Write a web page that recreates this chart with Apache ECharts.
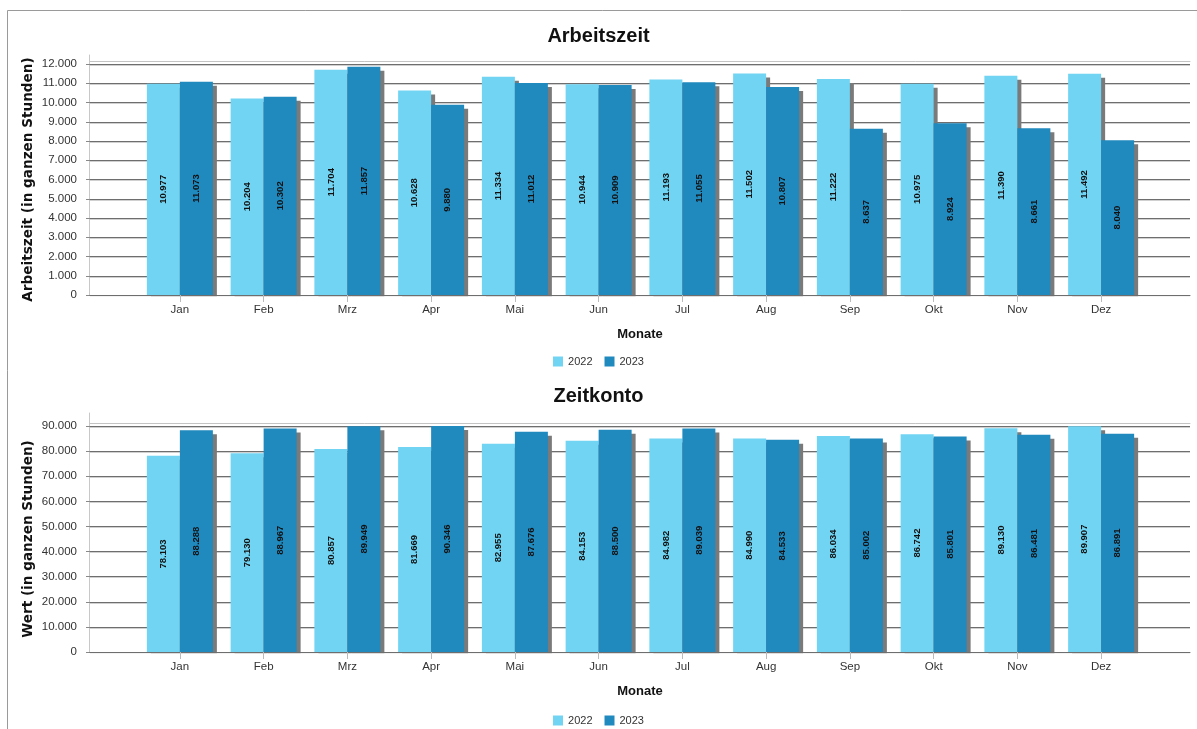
<!DOCTYPE html>
<html><head><meta charset="utf-8">
<script src="https://cdn.jsdelivr.net/npm/echarts@6/dist/echarts.min.js"></script>
<style>html,body{margin:0;padding:0;background:#fff}#c{width:1197px;height:729px}</style>
</head><body><div id="c"></div>
<script>
const categories = ['Jan','Feb','Mrz','Apr','Mai','Jun','Jul','Aug','Sep','Okt','Nov','Dez'];
const seriesNames = ['2022','2023'];
const arbeitszeit2022 = [10977,10204,11704,10628,11334,10944,11193,11502,11222,10975,11390,11492];
const arbeitszeit2023 = [11073,10302,11857,9880,11012,10909,11055,10807,8637,8924,8661,8040];
const zeitkonto2022 = [78103,79130,80857,81669,82955,84153,84982,84990,86034,86742,89130,89907];
const zeitkonto2023 = [88288,88967,89949,90346,87676,88500,89039,84533,85002,85801,86481,86891];
const titles = ['Arbeitszeit','Zeitkonto'];
const yNames = ['Arbeitszeit (in ganzen Stunden)','Wert (in ganzen Stunden)'];
const xName = 'Monate';
const yMax = [12000, 90000];
const yInterval = [1000, 10000];

const colors = ['#70d4f2','#2089be'];
const fmt = v => String(Math.round(v)).replace(/\B(?=(\d{3})+(?!\d))/g,'.');
const FONT = 'Liberation Sans';

const chart = echarts.init(document.getElementById('c'));
const panels = [
  {top:64, bottom:434, axTop:55, data:[arbeitszeit2022, arbeitszeit2023], titleTop:21, legendTop:351},
  {top:426, bottom:77, axTop:413, data:[zeitkonto2022, zeitkonto2023], titleTop:381, legendTop:710}
];
const grid=[], xAxis=[], yAxis=[], series=[], title=[], legend=[], graphic=[];
panels.forEach((p,i)=>{
  // background grid (gridlines, y labels)
  const gb = grid.length;
  grid.push({left:90, right:7, top:p.top, bottom:p.bottom});
  xAxis.push({type:'category', gridIndex:gb, data:categories, axisLabel:{show:false}, axisTick:{show:false}, z:6,
    axisLine:{show:true, lineStyle:{color:'#6e6e6e', width:1}}, splitLine:{show:false},
    name:xName, nameLocation:'middle', nameGap:33, nameMoveOverlap:false, nameTextStyle:{fontFamily:FONT, fontWeight:'bold', fontSize:13, color:'#111'}});
  // light second line under the axis
  xAxis.push({type:'category', gridIndex:gb, data:categories, offset:3, z:6, axisLabel:{show:false}, axisTick:{show:false},
    axisLine:{show:true, lineStyle:{color:'#c4c4c4', width:1}}, splitLine:{show:false}});
  yAxis.push({type:'value', gridIndex:gb, min:0, max:yMax[i], interval:yInterval[i],
    axisLine:{show:false}, axisTick:{show:true, length:4, lineStyle:{color:'#888'}},
    axisLabel:{formatter:fmt, fontFamily:FONT, fontSize:11.5, color:'#333', margin:13},
    splitLine:{show:true, lineStyle:{color:'#6e6e6e', width:1, shadowColor:'#d0d0d0', shadowOffsetY:1}},
    name:yNames[i], nameLocation:'middle', nameGap:55, nameMoveOverlap:false, nameTextStyle:{fontFamily:'DejaVu Sans', fontWeight:'bold', fontSize:13.6, color:'#111'}});
  // axis line grid
  const ga = grid.length;
  grid.push({left:89, width:1, top:p.axTop, bottom:p.bottom});
  xAxis.push({type:'value', gridIndex:ga, show:false});
  yAxis.push({type:'value', gridIndex:ga, min:0, max:1, axisLabel:{show:false}, axisTick:{show:false}, splitLine:{show:false},
    axisLine:{show:true, lineStyle:{color:'#c8c8c8'}}});
  // foreground grid with bars
  const gf = grid.length;
  grid.push({left:138, right:54, top:p.top, bottom:p.bottom});
  const xi = xAxis.length;
  xAxis.push({type:'category', gridIndex:gf, data:categories, z:6,
    axisLine:{show:false}, axisTick:{show:true, alignWithLabel:true, length:7, lineStyle:{color:'#bbb'}},
    axisLabel:{fontFamily:FONT, fontSize:11.5, color:'#333', margin:9}});
  const yi = yAxis.length;
  yAxis.push({type:'value', gridIndex:gf, min:0, max:yMax[i], interval:yInterval[i], show:false, splitLine:{show:false}});
  p.data.forEach((d,k)=>{
    series.push({type:'bar', name:seriesNames[k], xAxisIndex:xi, yAxisIndex:yi, data:d,
      barWidth:33, barGap:'0%',
      itemStyle:{color:colors[k], shadowColor:'#7a7a7a', shadowOffsetX:4, shadowOffsetY:4, shadowBlur:0},
      label:{show:true, position:'inside', rotate:90, formatter:o=>fmt(o.value),
        fontFamily:FONT, fontWeight:'bold', fontSize:9.5, color:'#111'}
    });
  });
  // white mask hiding the bar shadows below the baseline
  const base = 729 - p.bottom;
  graphic.push({type:'rect', z:4, silent:true, shape:{x:90, y:base+1.2, width:1100, height:6}, style:{fill:'#fff'}});
  title.push({text:titles[i], left:'center', top:p.titleTop, textStyle:{fontFamily:FONT, fontWeight:'bold', fontSize:20, color:'#111'}});
  legend.push({data:seriesNames.map(n=>({name:n})), left:'center', top:p.legendTop, icon:'rect', itemWidth:10, itemHeight:10, itemGap:12,
    textStyle:{fontFamily:FONT, fontSize:11, color:'#333'}, selectedMode:false});
});
graphic.push({type:'rect', shape:{x:7.5, y:10.5, width:1250, height:800}, style:{fill:'none', stroke:'#9a9a9a', lineWidth:1}, silent:true});
chart.setOption({animation:false, title, legend, grid, xAxis, yAxis, series, graphic});
</script></body></html>
